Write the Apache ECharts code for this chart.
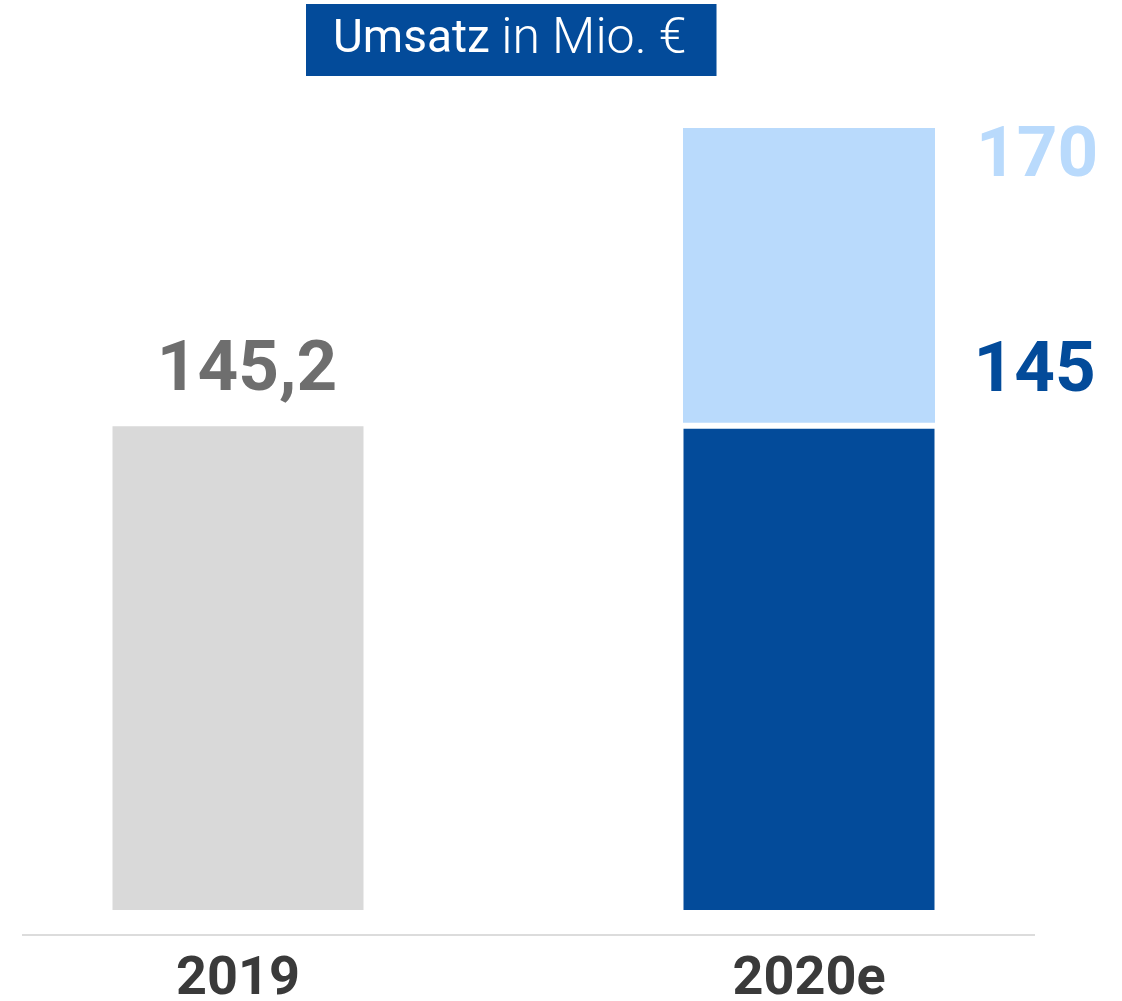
<!DOCTYPE html>
<html>
<head>
<meta charset="utf-8">
<script src="https://cdn.jsdelivr.net/npm/echarts@6/dist/echarts.min.js"></script>
<style>
  html, body { margin: 0; padding: 0; background: #fff; }
  #chart { width: 1122px; height: 1001px; }
</style>
</head>
<body>
<div id="chart"></div>
<script>
// Umsatz in Mio. €
const years = ['2019', '2020e']
const actual = [145.2, 145]           // Ist / untere Prognose
const rangeLow = [null, 145]          // Prognosespanne von
const rangeHigh = [null, 170]         // Prognosespanne bis

const barColors = ['#d9d9d9', '#034b9a']
const labelColors = ['#6e6e6e', '#034b9a']
const lightBlue = '#b9dafc'
const font = 'Roboto'

const fmt = v => String(v).replace('.', ',')

const chart = echarts.init(document.getElementById('chart'))

const rangeData = years.map((y, i) => rangeHigh[i] == null ? null : [i, rangeLow[i], rangeHigh[i]]).filter(d => d)

const option = {
  animation: false,
  title: {
    text: '{b|Umsatz }{l|in Mio. €}',
    left: 306,
    top: 5,
    backgroundColor: '#034b9a',
    padding: [11, 30, 11, 27],
    textStyle: {
      rich: {
        b: { fontFamily: font, fontSize: 46, fontWeight: 400, color: '#fff', lineHeight: 48 },
        l: { fontFamily: font, fontSize: 50, fontWeight: 300, color: '#fff', lineHeight: 48 }
      }
    }
  },
  grid: { left: -47.5, width: 1142, top: 128, bottom: 91, outerBoundsMode: 'none', containLabel: false },
  xAxis: {
    type: 'category',
    data: years,
    axisLine: { show: false },
    axisTick: { show: false },
    axisLabel: {
      margin: 43,
      fontFamily: font,
      fontSize: 54,
      fontWeight: 'bold',
      color: '#3a3a3a'
    }
  },
  yAxis: { type: 'value', min: 105, max: 170, show: false },
  graphic: [{
    type: 'line',
    shape: { x1: 22, y1: 935, x2: 1035, y2: 935 },
    style: { stroke: '#dcdcdc', lineWidth: 2 }
  }],
  series: [
    {
      type: 'bar',
      barWidth: 251,
      data: actual.map((v, i) => ({
        value: v,
        itemStyle: { color: barColors[i] },
        label: i === 0
          ? { show: true, position: 'top', distance: 19, offset: [9, 0], color: labelColors[i] }
          : { show: true, position: [290, -56], align: 'left', verticalAlign: 'middle', color: labelColors[i] }
      })),
      label: {
        fontFamily: font,
        fontSize: 71,
        fontWeight: 'bold',
        formatter: p => fmt(p.value)
      },
      emphasis: { disabled: true }
    },
    {
      type: 'custom',
      data: rangeData,
      encode: { x: 0, y: [1, 2] },
      renderItem: (params, api) => {
        const lo = api.coord([api.value(0), api.value(1)])
        const hi = api.coord([api.value(0), api.value(2)])
        const w = 252
        const gap = 5
        return {
          type: 'group',
          children: [
            {
              type: 'rect',
              shape: { x: lo[0] - w / 2, y: hi[1], width: w, height: lo[1] - hi[1] - gap - 1 },
              style: { fill: lightBlue }
            },
            {
              type: 'text',
              x: lo[0] + w / 2 + 41,
              y: hi[1] + 30,
              style: {
                text: fmt(api.value(2)),
                fill: lightBlue,
                font: 'bold 71px ' + font,
                verticalAlign: 'middle',
                align: 'left'
              }
            }
          ]
        }
      }
    }
  ]
}

chart.setOption(option)
</script>
</body>
</html>
